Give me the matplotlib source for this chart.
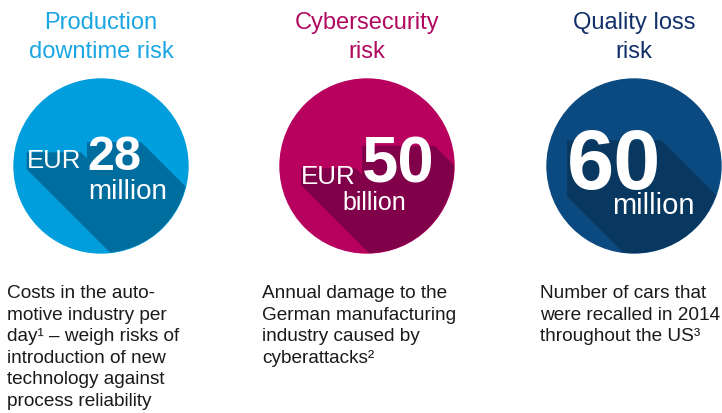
import matplotlib
matplotlib.use('Agg')
import matplotlib.pyplot as plt
from matplotlib.patches import Circle, Polygon

plt.rcParams['font.family'] = ['Liberation Sans', 'DejaVu Sans']

# Content of the three panels
titles = [['Production', 'downtime risk'],
          ['Cybersecurity', 'risk'],
          ['Quality loss', 'risk']]
prefixes = ['EUR', 'EUR', '']
numbers = ['28', '50', '60']
units = ['million', 'billion', 'million']
notes = [['Costs in the auto-', 'motive industry per', 'day¹ – weigh risks of',
          'introduction of new', 'technology against', 'process reliability'],
         ['Annual damage to the', 'German manufacturing', 'industry caused by',
          'cyberattacks²'],
         ['Number of cars that', 'were recalled in 2014', 'throughout the US³']]

title_colors = ['#1BA6E3', '#B0095F', '#12306A']
circle_colors = ['#009EDC', '#B8005F', '#0B4A80']
shadow_colors = ['#006D9F', '#80004A', '#083760']

centers_x = [101, 367, 634]
center_y = 167
radius = 87
note_x = [7, 262, 540]

fig = plt.figure(figsize=(7.22, 4.14), dpi=100)
ax = fig.add_axes([0, 0, 1, 1])
ax.set_xlim(0, 722)
ax.set_ylim(414, 0)
ax.axis('off')

# titles
for i, lines in enumerate(titles):
    for j, line in enumerate(lines):
        ax.text(centers_x[i], 23 + 29 * j, line, ha='center', va='center',
                fontsize=17, color=title_colors[i])

# circles
circles = []
for i in range(3):
    c = Circle((centers_x[i], center_y), radius, color=circle_colors[i], zorder=1)
    ax.add_patch(c)
    circles.append(c)

# big numbers inside circles
in_texts = [[], [], []]
# panel 1
in_texts[0].append(ax.text(81, 168, prefixes[0], ha='right', va='baseline',
                           fontsize=18.5, color='white', zorder=3))
in_texts[0].append(ax.text(87, 170, numbers[0], ha='left', va='baseline',
                           fontsize=35, fontweight='bold', color='white', zorder=3))
in_texts[0].append(ax.text(88, 199, units[0], ha='left', va='baseline',
                           fontsize=20, color='white', zorder=3))
# panel 2
in_texts[1].append(ax.text(301, 184, prefixes[1], ha='left', va='baseline',
                           fontsize=18.7, color='white', zorder=3))
in_texts[1].append(ax.text(362, 183, numbers[1], ha='left', va='baseline',
                           fontsize=47, fontweight='bold', color='white', zorder=3))
in_texts[1].append(ax.text(342, 210, units[1], ha='left', va='baseline',
                           fontsize=18, color='white', zorder=3))
# panel 3
in_texts[2].append(ax.text(567, 189, numbers[2], ha='left', va='baseline',
                           fontsize=61, fontweight='bold', color='white', zorder=3))
in_texts[2].append(ax.text(612, 214, units[2], ha='left', va='baseline',
                           fontsize=21, color='white', zorder=3))

# long shadows behind the text, clipped to the circle
fig.canvas.draw()
renderer = fig.canvas.get_renderer()
inv = ax.transData.inverted()
L = 400
for i in range(3):
    for t in in_texts[i]:
        bb = t.get_window_extent(renderer)
        (x0, y1), (x1, y0) = inv.transform([[bb.x0, bb.y0], [bb.x1, bb.y1]])
        h = y1 - y0
        y0 = y0 + 0.18 * h
        y1 = y1 - 0.12 * h
        pts = [(x0, y0), (x1, y0), (x1 + L, y0 + L), (x1 + L, y1 + L),
               (x0 + L, y1 + L), (x0, y1)]
        p = Polygon(pts, closed=True, color=shadow_colors[i], lw=0, zorder=2)
        ax.add_patch(p)
        p.set_clip_path(circles[i])

# notes under circles
for i, lines in enumerate(notes):
    for j, line in enumerate(lines):
        ax.text(note_x[i], 298 + 21.6 * j, line, ha='left', va='baseline',
                fontsize=13.7, color='#1a1a1a')

plt.savefig('out.png', dpi=100)
